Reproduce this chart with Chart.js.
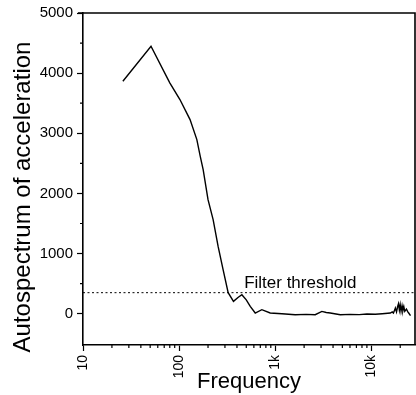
<!DOCTYPE html>
<html>
<head>
<meta charset="utf-8">
<script src="https://cdn.jsdelivr.net/npm/chart.js@4"></script>
<style>
  html, body { margin: 0; padding: 0; background: #fff; }
  #wrap { width: 416px; height: 395px; }
</style>
</head>
<body>
<div id="wrap"><canvas id="spec"></canvas></div>
<script>
// autospectrum (frequency in Hz)
const freq = [26, 51, 80, 102, 130, 153, 166, 178, 200, 226, 255, 287, 324, 368, 410, 450, 500, 550, 620, 726, 887,
  1175, 1615, 2100, 2610, 3060, 3400, 3740, 4760, 6000, 7500, 9010, 11000, 13000, 15800, 16500, 17000, 17500, 17800,
  18300, 18800, 19200, 19600, 20000, 20400, 20900, 21300, 21800, 22300, 23200, 24000, 24500, 25600];
const accel = [3865, 4448, 3839, 3561, 3228, 2895, 2617, 2396, 1897, 1564, 1115, 732, 349, 205, 270, 316, 230, 122, 12, 67, 12,
  0, -17, -10, -17, 38, 20, 12, -17, -10, -15, -5, -8, 0, 12, 30, 10, 60, 95,
  30, 120, 166, 60, 150, 40, 133, 50, 120, 40, 78, 30, 12, -33];

const thresholdValue = 350;
const thresholdText = 'Filter threshold';
const thresholdLabelFreq = 475;

const xRange = [10, 28500];
const yRange = [-520, 5000];
const decadeValues = [10, 100, 1000, 10000];
const decadeLabels = ['10', '100', '1k', '10k'];
const yTickValues = [0, 500, 1000, 1500, 2000, 2500, 3000, 3500, 4000, 4500, 5000];
const yTitle = 'Autospectrum of acceleration';

const xTickValues = [];
for (let d = 10; d < xRange[1]; d *= 10) {
  for (let m = 1; m < 10; m++) {
    if (d * m <= xRange[1]) xTickValues.push(d * m);
  }
}

const FONT = 'Liberation Sans, Arial, sans-serif';

// short minor ticks, frame on top/right, threshold label, y title
const extras = {
  id: 'extras',
  afterDraw(chart) {
    const ctx = chart.ctx;
    const a = chart.chartArea;
    const x = chart.scales.x, y = chart.scales.y;
    ctx.save();
    ctx.strokeStyle = '#000';
    ctx.lineWidth = 1.2;
    ctx.beginPath();
    x.ticks.forEach(t => {
      if (t.major) return;
      const px = x.getPixelForValue(t.value);
      ctx.moveTo(px, a.bottom);
      ctx.lineTo(px, a.bottom + 3);
    });
    y.ticks.forEach(t => {
      if (t.major) return;
      const py = y.getPixelForValue(t.value);
      ctx.moveTo(a.left, py);
      ctx.lineTo(a.left - 3, py);
    });
    ctx.stroke();

    ctx.lineWidth = 1.6;
    ctx.beginPath();
    ctx.moveTo(a.left - 5, a.top);
    ctx.lineTo(a.right, a.top);
    ctx.lineTo(a.right, a.bottom);
    ctx.stroke();

    ctx.fillStyle = '#000';
    ctx.font = '17px ' + FONT;
    ctx.textBaseline = 'alphabetic';
    ctx.fillText(thresholdText, x.getPixelForValue(thresholdLabelFreq), y.getPixelForValue(thresholdValue) - 5);

    // y title sits a little below the axis centre in the original
    ctx.translate(23, a.bottom - 148);
    ctx.rotate(-Math.PI / 2);
    ctx.font = '24px ' + FONT;
    ctx.textAlign = 'center';
    ctx.textBaseline = 'middle';
    ctx.fillText(yTitle, 0, 0);
    ctx.restore();
  }
};

const config = {
  type: 'line',
  data: {
    datasets: [{
      label: 'Autospectrum',
      data: freq.map((f, i) => ({ x: f, y: accel[i] })),
      borderColor: '#000',
      borderWidth: 1.4,
      pointRadius: 0,
      tension: 0,
      fill: false
    }, {
      label: 'Threshold',
      data: xRange.map(f => ({ x: f, y: thresholdValue })),
      borderColor: '#000',
      borderWidth: 1,
      borderDash: [2, 2.5],
      pointRadius: 0,
      fill: false
    }]
  },
  options: {
    responsive: true,
    maintainAspectRatio: false,
    animation: false,
    layout: { padding: { top: 13, right: 1, left: 0, bottom: 0 } },
    plugins: {
      legend: { display: false },
      tooltip: { enabled: false }
    },
    scales: {
      x: {
        type: 'logarithmic',
        min: xRange[0],
        max: xRange[1],
        afterBuildTicks: scale => {
          scale.ticks = xTickValues.map(v => ({ value: v, major: decadeValues.includes(v) }));
        },
        afterFit: scale => {
          scale.height = 50;
          scale.paddingLeft = 0;
          scale.paddingRight = 0;
        },
        border: { color: '#000', width: 1.6 },
        grid: {
          drawOnChartArea: false,
          drawTicks: true,
          tickLength: 6,
          tickWidth: 1.2,
          tickColor: c => (c.tick && c.tick.major) ? '#000' : 'rgba(0,0,0,0)'
        },
        ticks: {
          autoSkip: false,
          minRotation: 90,
          maxRotation: 90,
          padding: 4,
          color: '#000',
          font: { family: FONT, size: 14 },
          callback: v => {
            const i = decadeValues.indexOf(v);
            return i >= 0 ? decadeLabels[i] : '';
          }
        },
        title: {
          display: true,
          text: 'Frequency',
          color: '#000',
          font: { family: FONT, size: 22 },
          padding: { top: 0, bottom: 0 }
        }
      },
      y: {
        min: yRange[0],
        max: yRange[1],
        afterBuildTicks: scale => {
          scale.ticks = yTickValues.map(v => ({ value: v, major: v % 1000 === 0 }));
        },
        afterFit: scale => {
          scale.width = 83;
          scale.paddingTop = 0;
          scale.paddingBottom = 0;
        },
        border: { color: '#000', width: 1.6 },
        grid: {
          drawOnChartArea: false,
          drawTicks: true,
          tickLength: 6,
          tickWidth: 1.2,
          tickColor: c => (c.tick && c.tick.major) ? '#000' : 'rgba(0,0,0,0)'
        },
        ticks: {
          autoSkip: false,
          padding: 4,
          color: '#000',
          font: { family: FONT, size: 15 },
          callback: v => (v % 1000 === 0 ? String(v) : '')
        },
        title: { display: false }
      }
    }
  },
  plugins: [extras]
};

const spectrumChart = new Chart(document.getElementById('spec'), config);
</script>
</body>
</html>
